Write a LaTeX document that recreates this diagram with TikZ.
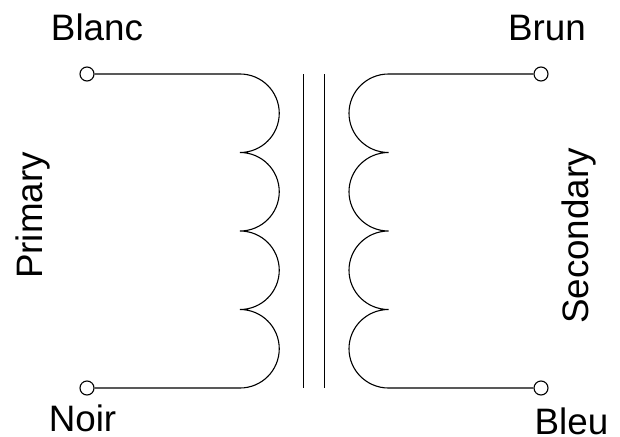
\documentclass[tikz,border=0pt]{standalone}
\usepackage{fontspec}
\setmainfont{Liberation Sans}
\tikzset{
  wire/.style={line width=1.1pt,black},
  term/.style={circle,draw=black,fill=white,line width=1.1pt,inner sep=0pt,minimum size=14pt},
  lab/.style={font=\fontsize{36.8}{40}\selectfont,text=black,inner sep=0pt}
}
\begin{document}
\begin{tikzpicture}[x=1pt,y=-1pt,line cap=butt,line join=miter]
\useasboundingbox (0,0) rectangle (620,436);
\node[lab,anchor=base] (blanc) at (97,41) {Blanc};
\node[lab,anchor=base] (brun) at (547,41) {Brun};
\node[lab,anchor=base] (noir) at (82.5,431.5) {Noir};
\node[lab,anchor=base] (bleu) at (571.5,434) {Bleu};
\node[lab,rotate=90] (prim) at (33,215.5) {Primary};
\node[lab,rotate=90] (sec) at (578.5,236) {Secondary};
\coordinate (p1) at (240,74);
\coordinate (p5) at (240,388);
\coordinate (s1) at (388.5,74);
\coordinate (s5) at (388.5,388);
\node[term] (tl) at (87,74) {};
\node[term] (bl) at (87,388) {};
\node[term] (tr) at (541,74) {};
\node[term] (br) at (541,388) {};
\draw[wire] (tl) -- (p1) arc[start angle=-90,end angle=90,x radius=39.25,y radius=39.25]
  arc[start angle=-90,end angle=90,x radius=39.25,y radius=39.25]
  arc[start angle=-90,end angle=90,x radius=39.25,y radius=39.25]
  arc[start angle=-90,end angle=90,x radius=39.25,y radius=39.25] -- (bl);
\draw[wire] (tr) -- (s1) arc[start angle=270,end angle=90,x radius=39.5,y radius=39.25]
  arc[start angle=270,end angle=90,x radius=39.5,y radius=39.25]
  arc[start angle=270,end angle=90,x radius=39.5,y radius=39.25]
  arc[start angle=270,end angle=90,x radius=39.5,y radius=39.25] -- (br);
\coordinate (c1t) at (303.7,74);
\coordinate (c1b) at (303.7,388);
\coordinate (c2t) at (324.5,74);
\coordinate (c2b) at (324.5,388);
\draw[wire] (c1t) -- (c1b);
\draw[wire] (c2t) -- (c2b);
\end{tikzpicture}
\end{document}
